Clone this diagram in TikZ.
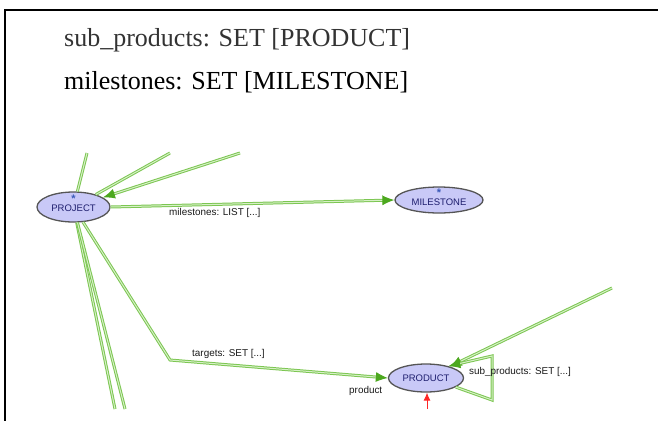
\documentclass[tikz,border=0pt]{standalone}
\usepackage{fontspec}
\setmainfont{Liberation Serif}
\newfontfamily\diagfont{Liberation Sans}
\usetikzlibrary{shapes.geometric,arrows.meta}

\definecolor{edgegreen}{HTML}{7CC652}
\definecolor{edgeinner}{HTML}{D6F0C6}
\definecolor{tipgreen}{HTML}{4CA81E}
\definecolor{classfill}{HTML}{C9C9F7}
\definecolor{classline}{HTML}{555555}
\definecolor{classtext}{HTML}{1E1E6E}
\definecolor{starblue}{HTML}{3A5AB8}
\definecolor{headgray}{HTML}{333333}

\tikzset{
  classnode/.style={ellipse, draw=classline, line width=1.3pt, fill=classfill,
    inner sep=0pt, font=\diagfont\fontsize{9.5}{10}\selectfont, text=classtext},
  relation/.style={draw=edgegreen, line width=1pt, double=edgeinner,
    double distance=1pt},
  relarrow/.style={relation, -{Latex[length=12pt,width=10pt,fill=tipgreen,color=tipgreen]}},
  rellabel/.style={font=\diagfont\fontsize{9.9}{10}\selectfont, text=black!90,
    inner sep=0pt, anchor=west},
  starmark/.style={font=\diagfont\bfseries\fontsize{11}{11}\selectfont, text=starblue, inner sep=0pt},
  heading/.style={font=\fontsize{26}{28}\selectfont, inner sep=0pt, anchor=base west}
}

\begin{document}
\begin{tikzpicture}[x=1pt, y=-1pt]
\useasboundingbox (0,0) rectangle (658,421);

% frame
\draw[line width=2pt, black] (658,10) -- (5,10) -- (5,421);

% header lines
\node[heading, text=headgray] (h1) at (64,46) {sub\_products: SET [PRODUCT]};
\node[heading, text=black] (h2) at (64,89) {milestones: SET [MILESTONE]};

% classes
\node[classnode, minimum width=73pt, minimum height=30pt] (prj) at (73.5,207) {};
\node[font=\diagfont\fontsize{9.5}{10}\selectfont, text=classtext, inner sep=0pt] (prjt) at (73.5,208.5) {PROJECT};
\node[starmark] (prjs) at (73.5,199) {*};

\node[classnode, minimum width=88pt, minimum height=26pt] (mil) at (439,200) {};
\node[font=\diagfont\fontsize{9.5}{10}\selectfont, text=classtext, inner sep=0pt] (milt) at (439,202) {MILESTONE};
\node[starmark] (mils) at (439,193) {*};

\node[classnode, minimum width=75pt, minimum height=28pt] (prd) at (426,378) {PRODUCT};

% free ends of relations leaving the visible area
\coordinate (t1) at (87,153);
\coordinate (t2) at (170,153);
\coordinate (t3) at (240,153);
\coordinate (b1) at (115,409);
\coordinate (b2) at (125,409);
\coordinate (bend) at (170,360);
\coordinate (r1) at (612,288);
\coordinate (lpb) at (492,400);
\coordinate (lpt) at (492,356);
\coordinate (red0) at (427,409);

% relations of PROJECT
\draw[relation] (prj) -- (t1);
\draw[relation] (prj) -- (t2);
\draw[relarrow] (t3) -- (prj);
\draw[relation] (prj) -- (b1);
\draw[relation] (prj) -- (b2);
\draw[relarrow] (prj.east) -- (mil.west);
\draw[relarrow] (prj) -- (bend) -- (prd.west);

% relations of PRODUCT
\draw[relarrow] (r1) -- (prd);
\draw[relarrow] (prd.-17) -- (lpb) -- (lpt) -- (prd.28);

% incoming marker
\draw[red!85!white, line width=0.9pt, -{Latex[length=8pt,width=7pt]}] (red0) -- (prd.south -| red0);

% labels
\node[rellabel] (lm) at (169,212.5) {milestones: LIST [...]};
\node[rellabel] (lt) at (192,354) {targets: SET [...]};
\node[rellabel] (ls) at (469,372) {sub\_products: SET [...]};
\node[rellabel] (lp) at (349,391) {product};
\end{tikzpicture}
\end{document}
